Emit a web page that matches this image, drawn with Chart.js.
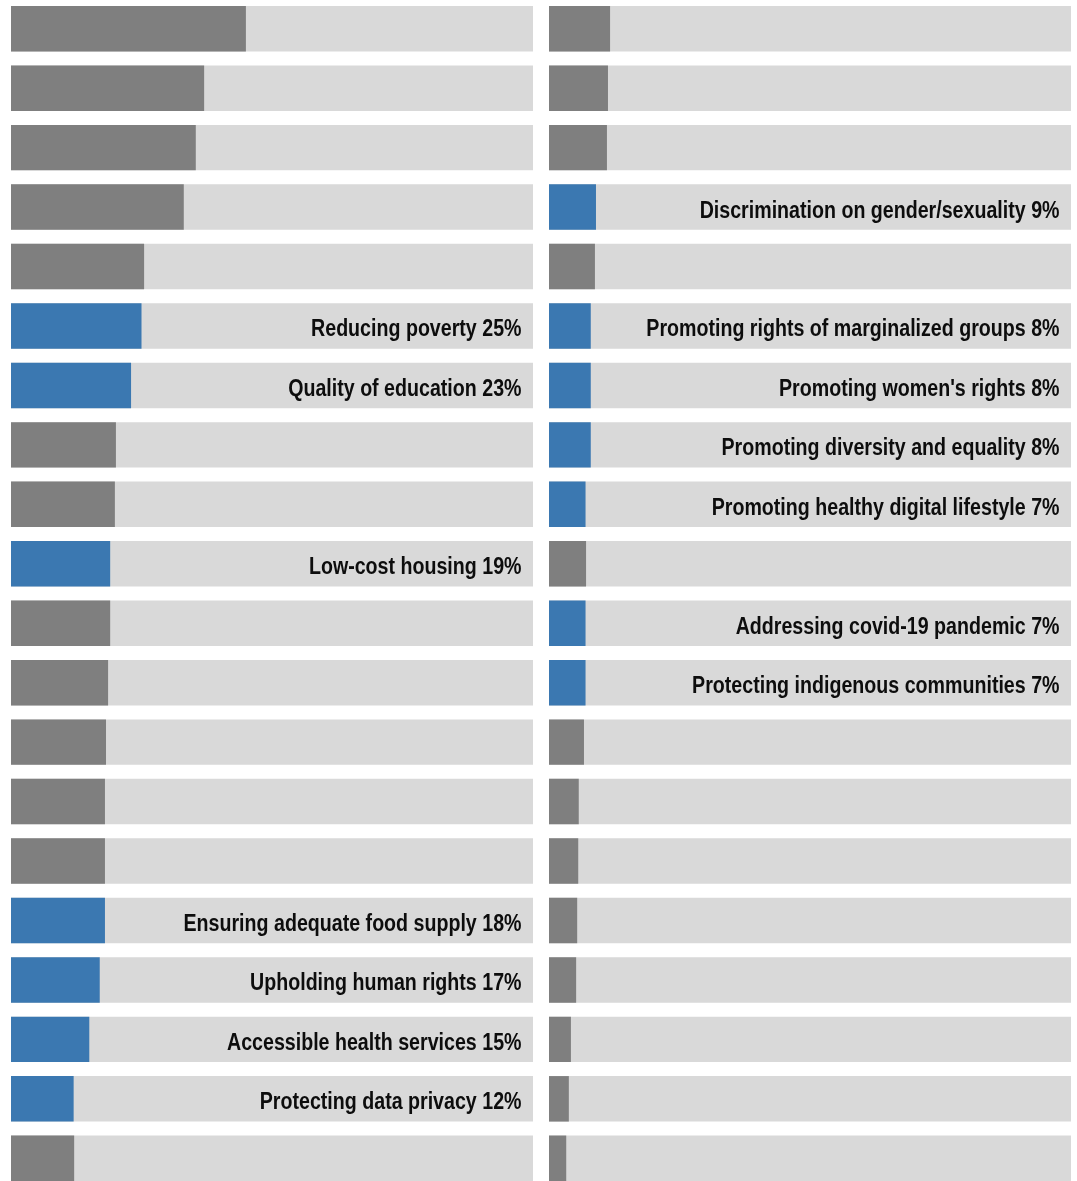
<!DOCTYPE html>
<html>
<head>
<meta charset="utf-8">
<title>Priority topics</title>
<script src="https://cdn.jsdelivr.net/npm/chart.js@4/dist/chart.umd.min.js"></script>
<style>
  html, body { margin: 0; padding: 0; background: #ffffff; overflow: hidden; }
  body { width: 1077px; height: 1181px; position: relative; }
  .panel { position: absolute; top: -1px; width: 522px; height: 1189px; }
  #left { left: 11px; }
  #right { left: 549px; }
</style>
</head>
<body>
<div class="panel" id="left"><canvas id="chartLeft"></canvas></div>
<div class="panel" id="right"><canvas id="chartRight"></canvas></div>
<script>
// Topic names are only given where the bar is highlighted and labelled.
const leftTopics = ['', '', '', '', '', 'Reducing poverty', 'Quality of education', '', '',
  'Low-cost housing', '', '', '', '', '', 'Ensuring adequate food supply',
  'Upholding human rights', 'Accessible health services', 'Protecting data privacy', ''];
const leftValues = [45.0, 37.0, 35.4, 33.1, 25.5, 25, 23, 20.1, 19.9, 19, 19.0, 18.6, 18.2,
  18.0, 18.0, 18, 17, 15, 12, 12.1];

const rightTopics = ['', '', '', 'Discrimination on gender/sexuality', '',
  'Promoting rights of marginalized groups', "Promoting women's rights",
  'Promoting diversity and equality', 'Promoting healthy digital lifestyle', '',
  'Addressing covid-19 pandemic', 'Protecting indigenous communities', '', '', '', '', '', '', '', ''];
const rightValues = [11.7, 11.3, 11.1, 9, 8.8, 8, 8, 8, 7, 7.1, 7, 7, 6.7, 5.7, 5.6, 5.4, 5.2,
  4.2, 3.8, 3.3];

const scaleMax = 100;

const COLOR_HIGHLIGHT = '#3b78b1';
const COLOR_BAR = '#7f7f7f';
const COLOR_TRACK = '#d9d9d9';
// A narrow bold face, drawn by squeezing Liberation Sans Bold horizontally.
const LABEL_FONT = 'bold 23.5px "Liberation Sans", Arial, sans-serif';
const LABEL_SQUEEZE = 0.835;

const labelPlugin = {
  id: 'topicLabels',
  afterDatasetsDraw(chart, args, opts) {
    const ctx = chart.ctx;
    const meta = chart.getDatasetMeta(0);
    const topics = opts.topics;
    const values = opts.values;
    meta.data.forEach((bar, i) => {
      if (!topics[i]) return;
      ctx.save();
      ctx.font = LABEL_FONT;
      ctx.fillStyle = '#0d0d0d';
      ctx.textAlign = 'right';
      ctx.textBaseline = 'alphabetic';
      ctx.translate(chart.chartArea.right - 11.5, bar.y + 10.5);
      ctx.scale(LABEL_SQUEEZE, 1);
      ctx.fillText(topics[i] + ' ' + values[i] + '%', 0, 0);
      ctx.restore();
    });
  }
};

function makeChart(id, topics, values) {
  const colors = topics.map(t => (t ? COLOR_HIGHLIGHT : COLOR_BAR));
  new Chart(document.getElementById(id), {
    type: 'bar',
    data: {
      labels: topics.map((t, i) => t || 'topic ' + (i + 1)),
      datasets: [
        {
          data: values,
          backgroundColor: colors,
          grouped: false,
          barPercentage: 0.765,
          categoryPercentage: 1
        },
        {
          data: values.map(() => scaleMax),
          backgroundColor: COLOR_TRACK,
          grouped: false,
          barPercentage: 0.765,
          categoryPercentage: 1
        }
      ]
    },
    options: {
      indexAxis: 'y',
      responsive: true,
      maintainAspectRatio: false,
      animation: false,
      layout: { padding: 0 },
      scales: {
        x: { display: false, min: 0, max: scaleMax },
        y: { display: false }
      },
      plugins: {
        legend: { display: false },
        tooltip: { enabled: false },
        topicLabels: { topics: topics, values: values }
      }
    },
    plugins: [labelPlugin]
  });
}

makeChart('chartLeft', leftTopics, leftValues);
makeChart('chartRight', rightTopics, rightValues);
</script>
</body>
</html>
